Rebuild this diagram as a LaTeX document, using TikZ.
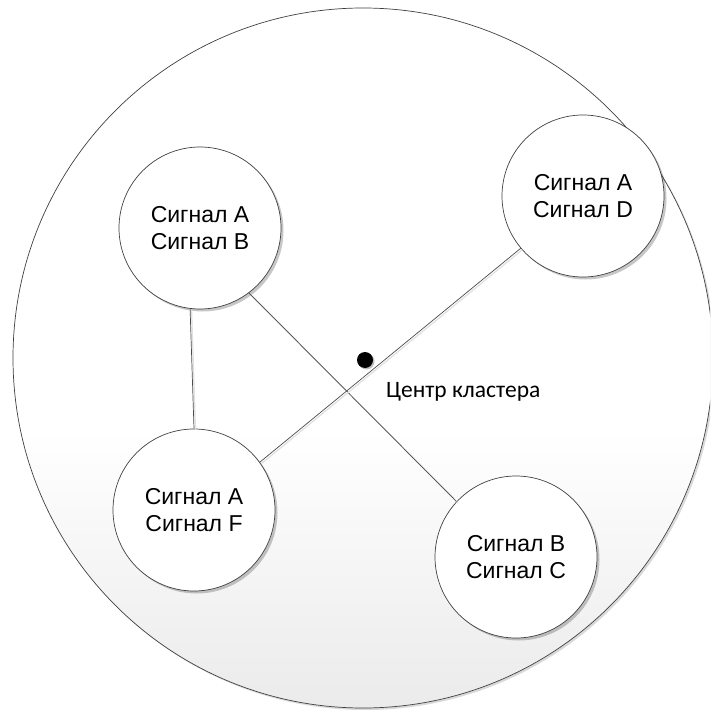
\documentclass[tikz,border=0pt]{standalone}
\usepackage{fontspec}
\setmainfont{Liberation Sans}
\newfontfamily\calib{Carlito}
\usetikzlibrary{shadows}
\begin{document}
\begin{tikzpicture}[x=1pt,y=-1pt,
  sig/.style={circle, draw=black!75, line width=0.7pt, fill=white, minimum size=162pt, inner sep=0pt, align=center,
    font=\fontsize{23}{27}\selectfont,
    drop shadow={shadow xshift=2.5pt, shadow yshift=-2.5pt, opacity=0.22, fill=black}},
  link/.style={draw=black!70, line width=0.7pt,
    preaction={draw=black!12, line width=1.2pt, transform canvas={shift={(1.5pt,-1.5pt)}}}},
  cluster/.style={circle, draw=black!75, line width=0.7pt, minimum size=700pt, inner sep=0pt},
  dot/.style={circle, fill=black, minimum size=16pt, inner sep=0pt,
    drop shadow={shadow xshift=1.5pt, shadow yshift=-1.5pt, opacity=0.25, fill=black}},
  lbl/.style={font=\calib\fontsize{23.5}{27}\selectfont, anchor=west, inner sep=0pt}]
\clip (0,0) rectangle (710,711);
\fill[white] (0,0) rectangle (710,711);
\fill[black, opacity=0.15] (365,360) circle (350);
\begin{scope}
  \clip (363,358) circle (350);
  \fill[white] (0,0) rectangle (710,711);
  \shade[top color=white, bottom color=black!8] (0,430) rectangle (710,711);
\end{scope}
\node[cluster] (cl) at (363,358) {};
\node[sig] (ab) at (200,228) {Сигнал A\\Сигнал B};
\node[sig] (ad) at (583,196) {Сигнал A\\Сигнал D};
\node[sig] (af) at (194,510) {Сигнал A\\Сигнал F};
\node[sig] (bc) at (516,557) {Сигнал B\\Сигнал C};
\draw[link] (ab.-97) -- (af.90);
\draw[link] (ab.-53) -- (bc.137);
\draw[link] (ad.-140) -- (af.36);
\node[dot] (ctr) at (365,360) {};
\node[lbl] (txt) at (386,392) {Центр кластера};
\end{tikzpicture}
\end{document}
